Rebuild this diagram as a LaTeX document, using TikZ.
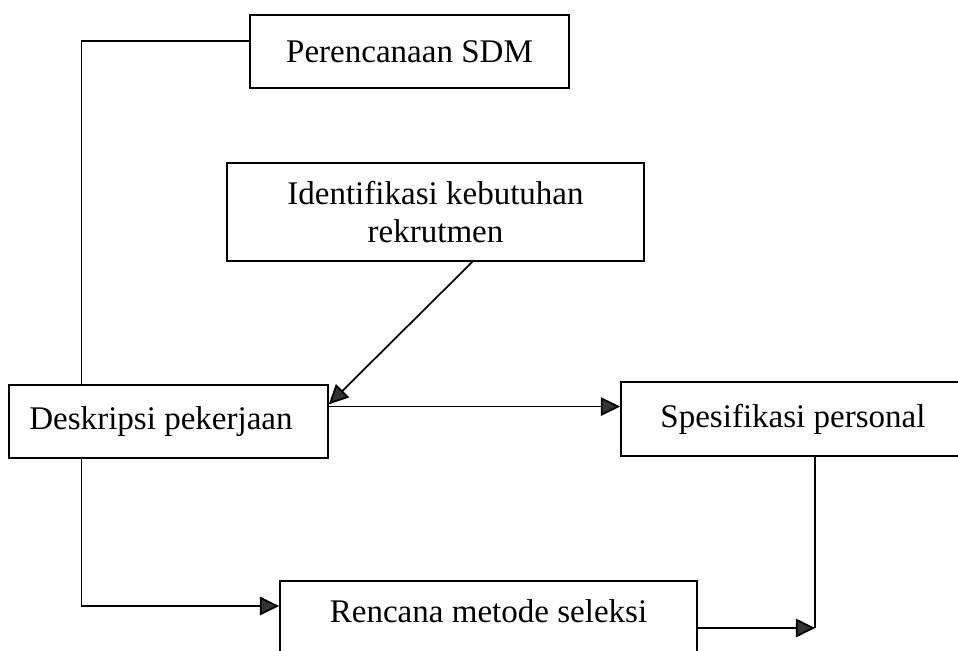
\documentclass[tikz,border=0pt]{standalone}
\usepackage{fontspec}
\setmainfont{Liberation Serif}
\usetikzlibrary{calc,arrows.meta}
\begin{document}
\begin{tikzpicture}[x=0.02cm,y=-0.02cm,
  box/.style={draw=black,line width=1pt,rectangle,align=center,
    font=\fontsize{18.8}{21.6}\selectfont},
  conn/.style={draw=black,line width=1pt},
  arr/.style={conn,-{Triangle[length=11pt,width=10.5pt,fill=black!80]}}]
\useasboundingbox (0,0) rectangle (958,650);
\clip (0,0) rectangle (958,650);
\fill[white] (0,0) rectangle (958,650);
\node[box,minimum width=6.38cm,minimum height=1.46cm] (sdm) at (409.5,51.5) {Perencanaan SDM};
\node[box,minimum width=8.34cm,minimum height=1.96cm] (iden) at (435.5,212) {Identifikasi kebutuhan\\rekrutmen};
\node[box,minimum width=6.38cm,minimum height=1.46cm] (desk) at (168.5,421.5) {Deskripsi pekerjaan\hspace*{0.3cm}};
\node[box,minimum width=6.88cm,minimum height=1.48cm] (spes) at (793,419) {Spesifikasi personal};
\node[box,minimum width=8.34cm,inner ysep=0pt,text height=0.84cm,text depth=0.8cm,anchor=north] (ren) at (488.5,580) {Rencana metode seleksi};
% connectors
\draw[conn] ($(sdm.north west)!0.356!(sdm.south west)$) -| ($(desk.north west)!0.229!(desk.north east)$);
\draw[arr] ($(iden.south west)!0.588!(iden.south east)$) -- ($(desk.north east)!0.27!(desk.south east)$);
\path ($(desk.north east)!0.3!(desk.south east)$) coordinate (p);
\draw[arr] (p) -- (p -| spes.west);
\path ($(ren.north west)+(0,26)$) coordinate (rw);
\draw[arr] ($(desk.south west)!0.229!(desk.south east)$) |- (rw);
\path ($(spes.south west)!0.564!(spes.south east)$) coordinate (sb);
\path ($(ren.north east)+(0,48)$) coordinate (re);
\coordinate (J) at (re -| sb);
\draw[conn] (sb) -- (J);
\draw[arr] (re) -- (J);
\end{tikzpicture}
\end{document}
